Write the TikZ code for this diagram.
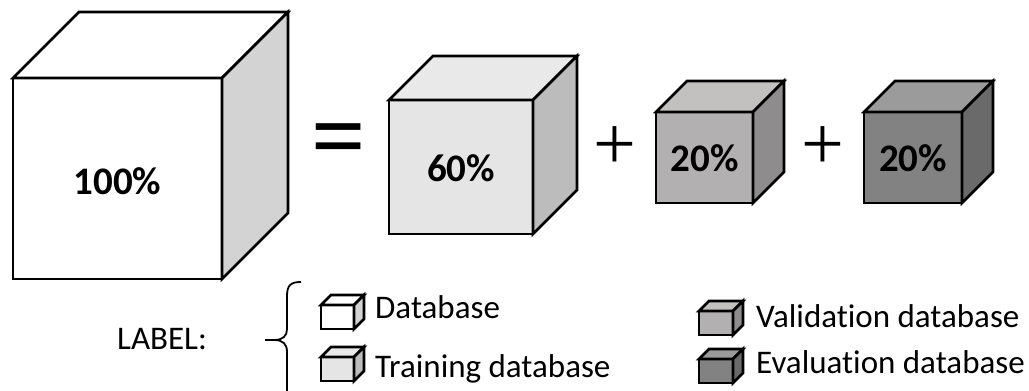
\documentclass[tikz,border=0pt]{standalone}
\usepackage{fontspec}
\setmainfont[Ligatures=NoCommon]{Carlito}
\newfontfamily\signfont{Liberation Serif}

% face colours of the blocks
\definecolor{bigside}{HTML}{D3D3D3}
\definecolor{trfront}{HTML}{E5E5E5}
\definecolor{trtop}{HTML}{E9E9E9}
\definecolor{trside}{HTML}{BCBCBC}
\definecolor{vafront}{HTML}{B2B0B0}
\definecolor{vatop}{HTML}{C3C0C0}
\definecolor{vaside}{HTML}{8E8C8C}
\definecolor{evfront}{HTML}{828282}
\definecolor{evtop}{HTML}{9B9B9B}
\definecolor{evside}{HTML}{6A6A6A}

% a block in oblique view: x, y (top-left of the front face), width, height, depth,
% front colour, top colour, side colour
\newcommand{\blockcube}[8]{%
  \filldraw[fill=#6] (#1,#2) rectangle ++(#3,#4);
  \filldraw[fill=#7] (#1,#2) -- ++(#5,-#5) -- ++(#3,0) -- ++(-#5,#5) -- cycle;
  \filldraw[fill=#8] (#1+#3,#2) -- ++(#5,-#5) -- ++(0,#4) -- ++(-#5,#5) -- cycle;
}

\tikzset{
  pct/.style={font=\fontsize{39}{42}\selectfont\bfseries, inner sep=0pt},
  legendtext/.style={font=\fontsize{33}{36}\selectfont, inner sep=0pt, anchor=base west},
  eqsign/.style={font=\signfont\bfseries\fontsize{96}{100}\selectfont, inner sep=0pt},
  plussign/.style={font=\signfont\fontsize{76}{80}\selectfont, inner sep=0pt},
  bigedge/.style={line width=2.6pt, line join=miter},
  keyedge/.style={line width=2.8pt, line join=miter},
}

\begin{document}
\begin{tikzpicture}[x=1pt, y=-1pt]
  \useasboundingbox (0,0) rectangle (1029,391);

  % the whole data set and its three parts
  \begin{scope}[bigedge]
    \blockcube{13}{78}{209}{201}{66}{white}{white}{bigside}
    \blockcube{389}{100}{144}{134}{44}{trfront}{trtop}{trside}
    \blockcube{656}{112}{97}{91}{31}{vafront}{vatop}{vaside}
    \blockcube{864}{112}{98}{91}{31}{evfront}{evtop}{evside}
  \end{scope}

  \node[pct] (all) at (117.5,181) {100\%};
  \node[pct] (train) at (461,168) {60\%};
  \node[pct] (valid) at (704.5,158) {20\%};
  \node[pct] (eval) at (913,158) {20\%};

  \node[eqsign] (eq) at (339,146) {=};
  \node[plussign] (plusa) at (615,148) {+};
  \node[plussign] (plusb) at (823,148) {+};

  % key
  \node[legendtext] (lab) at (117,349) {LABEL:};
  \draw[line width=1.8pt]
    (301,282) .. controls (291,282) and (287,285) .. (287,296) -- (287,329)
    .. controls (287,336) and (283,340) .. (274,340) -- (265,340);
  \draw[line width=1.8pt]
    (274,340) .. controls (283,340) and (287,344) .. (287,352) -- (287,395);

  \begin{scope}[keyedge]
    \blockcube{321}{305}{33}{24}{10}{white}{white}{bigside}
    \blockcube{321}{357}{33}{24}{10}{trfront}{trtop}{trside}
    \blockcube{699}{311}{34}{24}{10}{vafront}{vatop}{vaside}
    \blockcube{699}{359}{34}{24}{10}{evfront}{evtop}{evside}
  \end{scope}

  \node[legendtext] (kdb) at (375,318) {Database};
  \node[legendtext] (ktr) at (375,377) {Training database};
  \node[legendtext] (kva) at (756,327) {Validation database};
  \node[legendtext] (kev) at (756,373) {Evaluation database};
\end{tikzpicture}
\end{document}
